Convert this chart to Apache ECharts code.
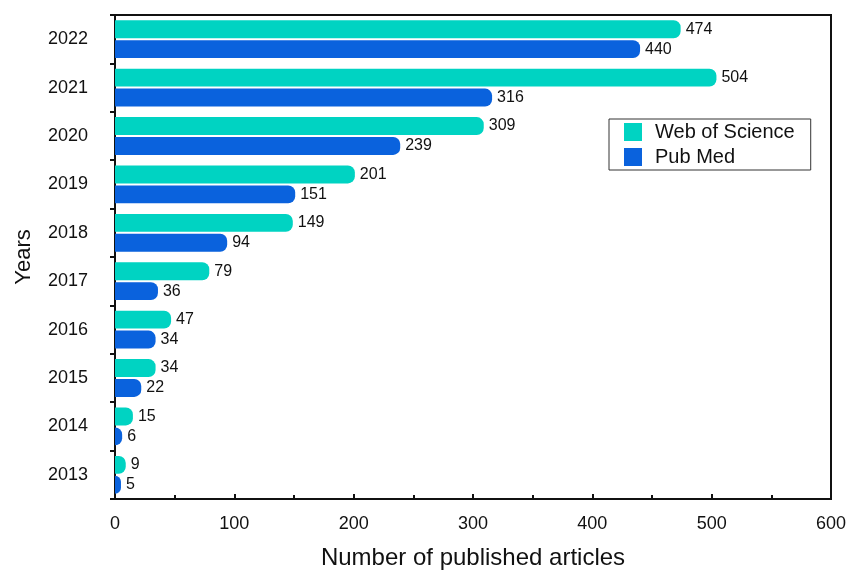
<!DOCTYPE html>
<html>
<head>
<meta charset="utf-8">
<script src="https://cdn.jsdelivr.net/npm/echarts@6/dist/echarts.min.js"></script>
<style>
html,body{margin:0;padding:0;background:#fff;}
#chart{width:846px;height:572px;}
</style>
</head>
<body>
<div id="chart"></div>
<script>
var years = ['2013','2014','2015','2016','2017','2018','2019','2020','2021','2022'];
var webOfScience = [9, 15, 34, 47, 79, 149, 201, 309, 504, 474];
var pubMed = [5, 6, 22, 34, 36, 94, 151, 239, 316, 440];
var xTicks = [0, 100, 200, 300, 400, 500, 600];

var FONT = 'Liberation Sans, Helvetica, Arial, sans-serif';
var chart = echarts.init(document.getElementById('chart'));
var labelStyle = {show: true, position: 'right', distance: 5, color: '#111', fontSize: 16, fontFamily: FONT};
chart.setOption({
  animation: false,
  textStyle: {fontFamily: FONT},
  grid: {left: 115, top: 15, right: 15, bottom: 73, outerBoundsMode: 'none', containLabel: false,
         show: true, borderColor: '#111', borderWidth: 2, backgroundColor: 'transparent'},
  legend: {
    orient: 'vertical', left: 609, top: 119,
    data: ['Web of Science', 'Pub Med'],
    icon: 'rect', itemWidth: 18, itemHeight: 18, itemGap: 5,
    borderColor: '#333', borderWidth: 1, padding: [3, 16, 3, 15],
    textStyle: {fontSize: 20, lineHeight: 20, color: '#111', fontFamily: FONT, padding: [0, 0, 0, 8]}
  },
  xAxis: {
    type: 'value', min: xTicks[0], max: xTicks[xTicks.length - 1], interval: 100,
    name: 'Number of published articles', nameLocation: 'middle', nameGap: 47,
    nameTextStyle: {fontSize: 24, color: '#111', fontFamily: FONT},
    axisLine: {show: true, lineStyle: {color: '#111', width: 2}},
    axisTick: {show: true, inside: true, length: 5, lineStyle: {color: '#111', width: 2}},
    minorTick: {show: true, splitNumber: 2, length: 4, lineStyle: {color: '#111', width: 2}},
    splitLine: {show: false},
    axisLabel: {fontSize: 18, color: '#111', margin: 16, fontFamily: FONT}
  },
  yAxis: {
    type: 'category', data: years,
    name: 'Years', nameLocation: 'middle', nameGap: 80,
    nameTextStyle: {fontSize: 22, color: '#111', fontFamily: FONT},
    axisLine: {show: true, lineStyle: {color: '#111', width: 2}},
    axisTick: {show: true, length: 5, lineStyle: {color: '#111', width: 2}},
    axisLabel: {fontSize: 18, color: '#111', margin: 27, fontFamily: FONT}
  },
  series: [
    {name: 'Web of Science', type: 'bar', data: webOfScience, barGap: '11%', barCategoryGap: '22%',
     itemStyle: {color: '#00D3C2', borderRadius: [0, 7, 7, 0]}, label: labelStyle},
    {name: 'Pub Med', type: 'bar', data: pubMed, barGap: '11%', barCategoryGap: '22%',
     itemStyle: {color: '#0A62DD', borderRadius: [0, 7, 7, 0]}, label: labelStyle}
  ]
});
</script>
</body>
</html>
